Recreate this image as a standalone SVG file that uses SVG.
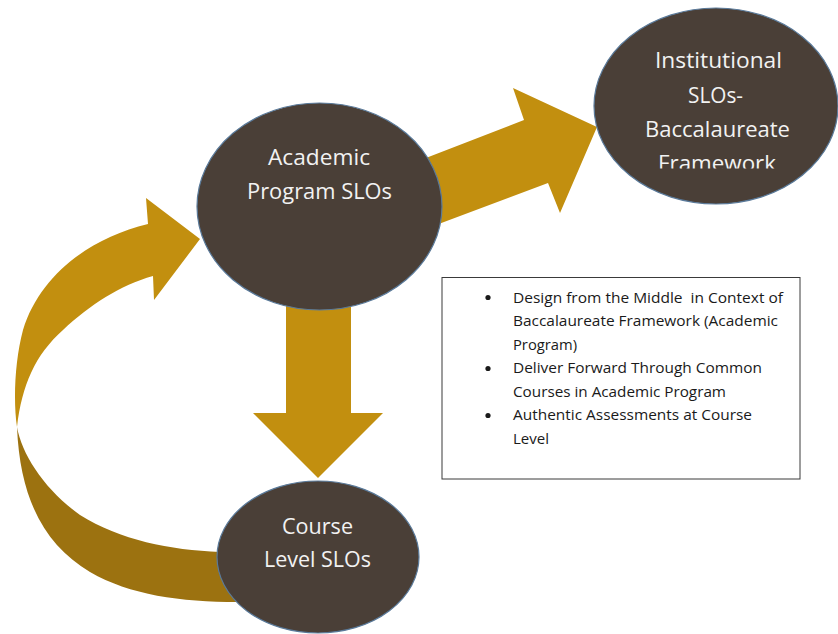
<svg xmlns="http://www.w3.org/2000/svg" width="838" height="634" viewBox="0 0 838 634">
<style>
.node{fill:#4A3F37;stroke:#5A7A9A;stroke-width:1.2}
.gold{fill:#C28F0F}
.dark{fill:#9C7210}
.nt{font-family:"Open Sans","Liberation Sans",sans-serif;font-size:22px;fill:#F2F2F2;text-anchor:start}
.bt{font-family:"Open Sans","Liberation Sans",sans-serif;font-size:14.5px;fill:#1A1A1A}
</style>
<defs>
<clipPath id="clipInst"><rect x="590" y="0" width="248" height="168.5"/></clipPath>
</defs>
<rect width="838" height="634" fill="#FFFFFF"/>
<g id="connectors">
<path class="dark" d="M17,427 C20,500 45,545 90,572 C130,595 180,602 238,602 L238,552 L220,552 C170,550 120,540 80,515 C45,490 22,455 17,427 Z"/>
<path class="gold" d="M148,224 C90,238 40,275 23,330 C15,360 13,400 17,427 C22,385 35,355 63,330 C90,305 120,285 153,276 L154,300 L200,239 L146,198 Z"/>
<polygon class="gold" points="286,300 351,300 351,413 383,413 318,478 253,413 286,413"/>
<polygon class="gold" points="400,168 524,120 513,88 597,127 560,213 548,183 420,231"/>
</g>
<g id="node-academic">
<ellipse class="node" cx="319.5" cy="206.5" rx="122.5" ry="103.5"/>
<text class="nt" x="268" y="165" textLength="102" lengthAdjust="spacingAndGlyphs">Academic</text>
<text class="nt" x="247" y="199" textLength="145" lengthAdjust="spacingAndGlyphs">Program SLOs</text>
</g>
<g id="node-institutional">
<ellipse class="node" cx="716" cy="106" rx="122" ry="98"/>
<text class="nt" x="655" y="68" textLength="127" lengthAdjust="spacingAndGlyphs">Institutional</text>
<text class="nt" x="688" y="103" textLength="55" lengthAdjust="spacingAndGlyphs">SLOs-</text>
<text class="nt" x="645" y="137" textLength="145" lengthAdjust="spacingAndGlyphs">Baccalaureate</text>
<text class="nt" x="658" y="171" textLength="118" lengthAdjust="spacingAndGlyphs" clip-path="url(#clipInst)">Framework</text>
</g>
<g id="node-course">
<ellipse class="node" cx="318" cy="557" rx="101" ry="76"/>
<text class="nt" x="282" y="534" textLength="71" lengthAdjust="spacingAndGlyphs">Course</text>
<text class="nt" x="264" y="567" textLength="107" lengthAdjust="spacingAndGlyphs">Level SLOs</text>
</g>
<g id="node-textbox">
<rect x="442" y="277.5" width="358" height="201.5" fill="#FFFFFF" stroke="#3A3A3A" stroke-width="1"/>
<circle cx="488" cy="297.5" r="2.6" fill="#1A1A1A"/>
<circle cx="488" cy="368.5" r="2.6" fill="#1A1A1A"/>
<circle cx="488" cy="415.5" r="2.6" fill="#1A1A1A"/>
<text class="bt" x="513" y="302.5" textLength="270" lengthAdjust="spacingAndGlyphs" xml:space="preserve">Design from the Middle  in Context of</text>
<text class="bt" x="513" y="326" textLength="265" lengthAdjust="spacingAndGlyphs">Baccalaureate Framework (Academic</text>
<text class="bt" x="513" y="349.5" textLength="64" lengthAdjust="spacingAndGlyphs">Program)</text>
<text class="bt" x="513" y="373" textLength="249" lengthAdjust="spacingAndGlyphs">Deliver Forward Through Common</text>
<text class="bt" x="513" y="396.5" textLength="213" lengthAdjust="spacingAndGlyphs">Courses in Academic Program</text>
<text class="bt" x="513" y="420" textLength="239" lengthAdjust="spacingAndGlyphs">Authentic Assessments at Course</text>
<text class="bt" x="513" y="443.5" textLength="36" lengthAdjust="spacingAndGlyphs">Level</text>
</g>
</svg>
